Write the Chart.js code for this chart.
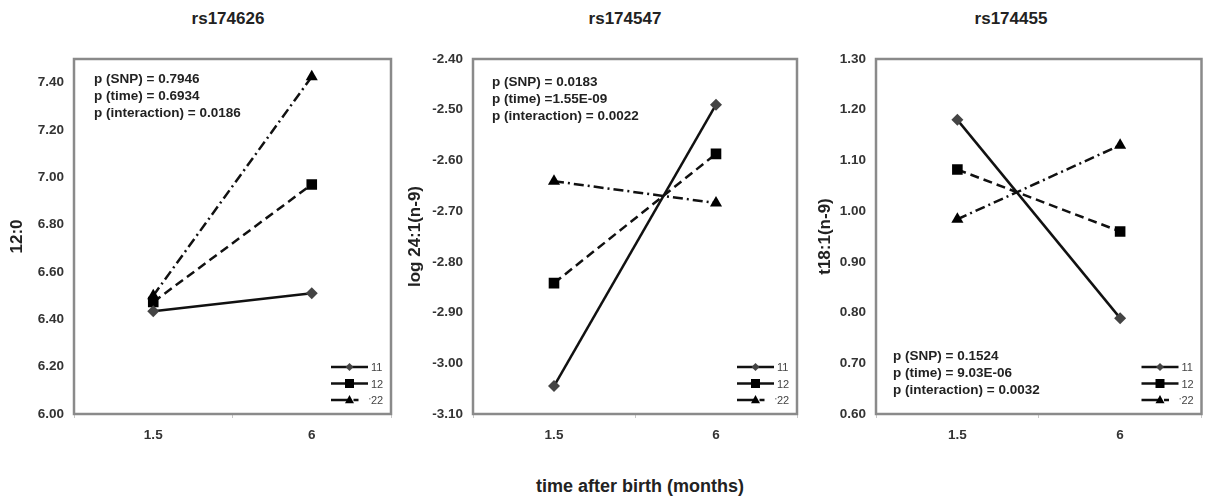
<!DOCTYPE html>
<html>
<head>
<meta charset="utf-8">
<script src="https://cdn.jsdelivr.net/npm/chart.js@4"></script>
<style>
  body { margin: 0; background: #fff; font-family: "Liberation Sans", Arial, sans-serif; }
  #wrap { position: relative; width: 1209px; height: 499px; overflow: hidden; }
  canvas { position: absolute; top: 0; }
  .title { position: absolute; top: 9px; transform: translateX(-50%); font-weight: bold; font-size: 17px; color: #222; white-space: nowrap; }
  .xtitle { position: absolute; top: 476px; left: 640px; transform: translateX(-50%); font-weight: bold; font-size: 18px; color: #222; white-space: nowrap; }
</style>
</head>
<body>
<div id="wrap">
  <div class="title" style="left:228px">rs174626</div>
  <div class="title" style="left:625px">rs174547</div>
  <div class="title" style="left:1011px">rs174455</div>
  <canvas id="c1" width="400" height="460" style="left:0px"></canvas>
  <canvas id="c2" width="405" height="460" style="left:400px"></canvas>
  <canvas id="c3" width="409" height="460" style="left:800px"></canvas>
  <div class="xtitle">time after birth (months)</div>
</div>
<script>
// time points (months) and genotype groups
const times = ["1.5", "6"];
const genotypes = ["11", "12", "22"];

// rs174626 -> 12:0
const snp1_11 = [6.434, 6.51];
const snp1_12 = [6.473, 6.97];
const snp1_22 = [6.50, 7.425];
// rs174547 -> log 24:1(n-9)
const snp2_11 = [-3.045, -2.49];
const snp2_12 = [-2.842, -2.587];
const snp2_22 = [-2.641, -2.684];
// rs174455 -> t18:1(n-9)
const snp3_11 = [1.18, 0.789];
const snp3_12 = [1.082, 0.96];
const snp3_22 = [0.984, 1.13];

const yTitles = ["12:0", "log 24:1(n-9)", "t18:1(n-9)"];
const yMin = [6.0, -3.1, 0.6];
const yMax = [7.5, -2.4, 1.3];
const yStep = [0.2, 0.1, 0.1];

const notes1 = ["p (SNP) = 0.7946", "p (time) = 0.6934", "p (interaction) = 0.0186"];
const notes2 = ["p (SNP) = 0.0183", "p (time) =1.55E-09", "p (interaction) = 0.0022"];
const notes3 = ["p (SNP) = 0.1524", "p (time) = 9.03E-06", "p (interaction) = 0.0032"];

Chart.defaults.font.family = '"Liberation Sans", Arial, sans-serif';

const markers = ["rectRot", "rect", "triangle"];
const dashes = [[], [9, 5], [10, 4, 2, 4]];
const markerColors = ["#444", "#000", "#000"];
const markerSize = [6, 7.5, 7];

function drawMarker(ctx, style, x, y, s, color) {
    ctx.save();
    ctx.fillStyle = color;
    ctx.beginPath();
    if (style === "rectRot") {
        ctx.moveTo(x, y - s); ctx.lineTo(x + s, y); ctx.lineTo(x, y + s); ctx.lineTo(x - s, y);
    } else if (style === "rect") {
        ctx.rect(x - s, y - s, 2 * s, 2 * s);
    } else {
        ctx.moveTo(x, y - s * 1.1); ctx.lineTo(x + s, y + s * 0.7); ctx.lineTo(x - s, y + s * 0.7);
    }
    ctx.closePath();
    ctx.fill();
    ctx.restore();
}

// frame around plot area, legend in the bottom right, p-values text
const panelExtras = {
    id: "panelExtras",
    afterDraw(chart, args, opts) {
        const ctx = chart.ctx;
        const a = chart.chartArea;
        ctx.save();
        ctx.strokeStyle = "#8a8a8a";
        ctx.lineWidth = 2.5;
        ctx.strokeRect(a.left, a.top, a.right - a.left, a.bottom - a.top);

        // notes
        ctx.fillStyle = "#222";
        ctx.font = 'bold 13.5px "Liberation Sans", Arial, sans-serif';
        ctx.textBaseline = "middle";
        ctx.textAlign = "left";
        opts.notes.forEach((t, i) => {
            ctx.fillText(t, a.left + opts.noteX, (opts.noteBottom ? a.bottom : a.top) + opts.noteY + i * 17);
        });

        // legend (Excel style: solid sample, dash-dot only at the tail of 22)
        chart.data.datasets.forEach((ds, i) => {
            const y = a.bottom - 47 + i * 16.5;
            const x0 = a.right - 60, x1 = a.right - 23;
            const xm = (x0 + x1) / 2;
            ctx.save();
            ctx.strokeStyle = "#111";
            ctx.lineWidth = 2.5;
            ctx.beginPath();
            if (i === 2) {
                ctx.moveTo(x0, y); ctx.lineTo(xm, y);
                ctx.moveTo(xm + 4, y); ctx.lineTo(xm + 9, y);
            } else {
                ctx.moveTo(x0, y); ctx.lineTo(x1, y);
            }
            ctx.stroke();
            if (i === 2) {
                ctx.fillStyle = "#999";
                ctx.fillRect(x1 + 1, y - 2, 1.5, 1.5);
            }
            ctx.restore();
            drawMarker(ctx, ds.pointStyle, xm, y, i === 0 ? 4 : 4.5, markerColors[i]);
            ctx.fillStyle = "#444";
            ctx.font = '11px "Liberation Sans", Arial, sans-serif';
            ctx.fillText(ds.label, x1 + 3, y + 1);
        });
        ctx.restore();
    }
};

function makePanel(id, idx, series, notes, leftW, rightPad, titlePad, noteX, noteY, noteBottom) {
    const step = yStep[idx];
    const min = yMin[idx];
    new Chart(document.getElementById(id), {
        type: "line",
        data: {
            labels: times,
            datasets: series.map((vals, i) => ({
                label: genotypes[i],
                data: vals,
                borderColor: "#111",
                borderWidth: 2.5,
                borderDash: dashes[i],
                pointStyle: markers[i],
                pointRadius: markerSize[i],
                pointBackgroundColor: markerColors[i],
                pointBorderColor: markerColors[i],
                pointBorderWidth: 0,
                fill: false,
                tension: 0
            }))
        },
        options: {
            responsive: false,
            animation: false,
            events: [],
            layout: {padding: {top: 59, right: rightPad, bottom: 6, left: 0}},
            plugins: {
                legend: {display: false},
                tooltip: {enabled: false},
                panelExtras: {notes: notes, noteX: noteX, noteY: noteY, noteBottom: noteBottom}
            },
            scales: {
                x: {
                    type: "category",
                    offset: true,
                    grid: {offset: true, drawOnChartArea: false, drawTicks: true, tickLength: 4, color: "#c8c8c8"},
                    border: {display: false},
                    ticks: {font: {size: 13.5, weight: "bold"}, color: "#333", padding: 9},
                    afterFit: s => { s.height = 40; }
                },
                y: {
                    min: min,
                    max: yMax[idx],
                    grid: {display: false, drawTicks: false},
                    border: {display: false},
                    ticks: {
                        stepSize: step,
                        font: {size: 13.5, weight: "bold"},
                        color: "#333",
                        padding: 10,
                        callback: v => v.toFixed(2)
                    },
                    afterBuildTicks: s => {
                        s.ticks = s.ticks.filter(t => {
                            const k = (t.value - min) / step;
                            return Math.abs(k - Math.round(k)) < 1e-6;
                        });
                    },
                    title: {
                        display: true,
                        text: yTitles[idx],
                        font: {size: 17, weight: "bold"},
                        color: "#222",
                        padding: {top: titlePad, bottom: 0}
                    },
                    afterFit: s => { s.width = leftW; }
                }
            }
        },
        plugins: [panelExtras]
    });
}

makePanel("c1", 0, [snp1_11, snp1_12, snp1_22], notes1, 74, 9, 7, 20, 20, false);
makePanel("c2", 1, [snp2_11, snp2_12, snp2_22], notes2, 73, 8, 5, 19, 23, false);
makePanel("c3", 2, [snp3_11, snp3_12, snp3_22], notes3, 76, 2, 15, 17, -58, true);
</script>
</body>
</html>
